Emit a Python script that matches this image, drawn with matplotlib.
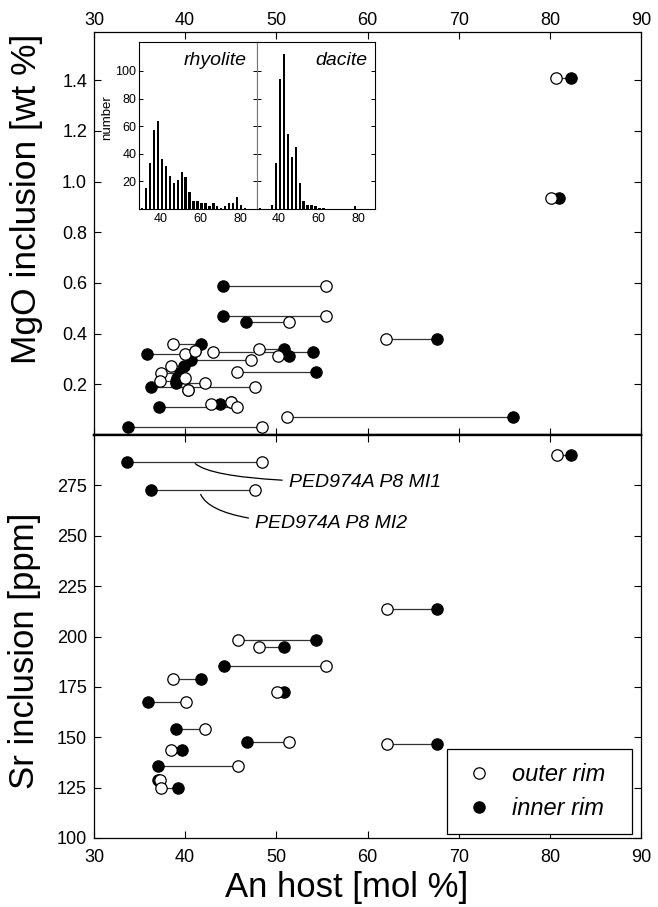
import matplotlib
matplotlib.use("Agg")
import matplotlib.pyplot as plt
import numpy as np

plt.rcParams['font.family'] = ['Liberation Sans', 'DejaVu Sans']

# --- MgO panel: An of outer rim, An of inner rim, MgO in the inclusion (wt %)
mgo_outer = [80.7, 80.1, 62.0, 55.4, 55.4, 51.4, 38.7, 40.0, 43.1, 48.1,
             50.2, 41.1, 47.2, 38.5, 37.4, 40.0, 37.2, 42.2, 47.7, 40.35,
             45.7, 42.8, 45.0, 45.7, 51.2, 48.4]
mgo_inner = [82.3, 81.0, 67.6, 44.2, 44.2, 46.7, 41.7, 35.8, 54.0, 50.8,
             51.4, 41.1, 40.6, 39.9, 39.4, 39.1, 39.0, 39.0, 36.3, 40.35,
             54.35, 43.8, 45.0, 37.1, 76.0, 33.7]
mgo_val = [1.41, 0.935, 0.377, 0.588, 0.471, 0.447, 0.36, 0.32, 0.328, 0.339,
           0.313, 0.33, 0.295, 0.272, 0.245, 0.225, 0.212, 0.205, 0.19, 0.178,
           0.25, 0.123, 0.132, 0.112, 0.07, 0.032]

# --- Sr panel: An of outer rim, An of inner rim, Sr in the inclusion (ppm)
sr_outer = [80.75, 48.4, 47.7, 62.1, 45.8, 48.1, 55.5, 38.7, 50.1, 40.05,
            42.2, 51.4, 62.1, 38.45, 45.8, 37.25, 37.35]
sr_inner = [82.3, 33.65, 36.25, 67.65, 54.3, 50.8, 44.3, 41.7, 50.8, 35.9,
            39.0, 46.75, 67.65, 39.7, 37.05, 37.0, 39.2]
sr_val = [290.0, 286.7, 272.6, 213.8, 198.4, 194.6, 185.6, 178.9, 172.7, 167.7,
          154.0, 147.6, 146.7, 143.7, 135.8, 128.8, 124.7]

# --- inset histograms of An in plagioclase
hist_an = [30.4, 32.4, 34.4, 36.4, 38.4, 40.4, 42.4, 44.4, 46.4, 48.4,
           50.4, 52.4, 54.4, 56.4, 58.4, 60.4, 62.4, 64.4, 66.4, 68.4,
           70.4, 72.4, 74.4, 76.4, 78.4, 80.4, 82.4]
rhyolite_counts = [1, 15, 33, 57, 64, 36, 31, 24, 19, 21, 27, 23, 12, 6, 6, 4,
                   4, 2, 4, 2, 1, 2, 4, 4, 9, 3, 1]
dacite_counts = [1, 0, 0, 3, 33, 94, 112, 54, 38, 45, 19, 6, 3, 3, 2, 1,
                 1, 0, 0, 0, 0, 0, 0, 0, 2, 0, 0]

x_ticks = [30, 40, 50, 60, 70, 80, 90]
mgo_ticks = [0.2, 0.4, 0.6, 0.8, 1.0, 1.2, 1.4]
sr_ticks = [100, 125, 150, 175, 200, 225, 250, 275]

W, H = 658, 907
fig = plt.figure(figsize=(W / 100, H / 100), dpi=100)


def px_rect(x0, y0, x1, y1):
    # pixel box (top-left origin) -> figure fraction rect
    return [x0 / W, 1 - y1 / H, (x1 - x0) / W, (y1 - y0) / H]


ax_top = fig.add_axes(px_rect(94, 32, 641, 435))
ax_bot = fig.add_axes(px_rect(94, 435, 641, 838))


def draw_pairs(ax, outer, inner, vals):
    outer = np.array(outer)
    inner = np.array(inner)
    ax.hlines(vals, np.minimum(outer, inner), np.maximum(outer, inner),
              color='#333333', lw=0.9, zorder=1)
    h_in, = ax.plot(inner, vals, 'o', mfc='black', mec='black', ms=8.2,
                    mew=0.8, zorder=2, label='inner rim')
    h_out, = ax.plot(outer, vals, 'o', mfc='white', mec='black', ms=8.2,
                     mew=0.9, zorder=3, label='outer rim')
    return h_out, h_in


draw_pairs(ax_top, mgo_outer, mgo_inner, mgo_val)
h_out, h_in = draw_pairs(ax_bot, sr_outer, sr_inner, sr_val)

for ax in (ax_top, ax_bot):
    ax.set_xlim(30, 90)
    ax.set_xticks(x_ticks)
    ax.tick_params(direction='in', length=5, width=0.8, labelsize=13,
                   top=True, right=True, pad=5)
    for s in ax.spines.values():
        s.set_linewidth(0.9)

ax_top.set_ylim(0, 1.59)
ax_top.set_yticks(mgo_ticks)
ax_top.set_yticklabels(['%.1f' % t for t in mgo_ticks])
ax_top.tick_params(axis='x', labeltop=True, labelbottom=False, pad=2)
ax_top.spines['bottom'].set_linewidth(1.7)

ax_bot.set_ylim(100, 300)
ax_bot.set_yticks(sr_ticks)
ax_bot.tick_params(axis='x', pad=8)
ax_bot.spines['top'].set_linewidth(1.7)

# labels
fig.text(27 / W, 1 - 199 / H, 'MgO inclusion [wt %]', rotation=90,
         ha='center', va='center', fontsize=25.5)
fig.text(25 / W, 1 - 651 / H, 'Sr inclusion [ppm]', rotation=90,
         ha='center', va='center', fontsize=25)
fig.text(347 / W, 1 - 888 / H, 'An host [mol %]', ha='center', va='center',
         fontsize=25)

# sample annotations
ax_bot.annotate('PED974A P8 MI1', xy=(41.1, 285.8), xytext=(51.4, 276.6),
                fontsize=14, style='italic', ha='left', va='center',
                arrowprops=dict(arrowstyle='-', color='black', lw=0.9,
                                connectionstyle='angle3,angleA=0,angleB=-40',
                                shrinkA=3, shrinkB=0))
ax_bot.annotate('PED974A P8 MI2', xy=(41.7, 270.5), xytext=(47.7, 256.0),
                fontsize=14, style='italic', ha='left', va='center',
                arrowprops=dict(arrowstyle='-', color='black', lw=0.9,
                                connectionstyle='angle3,angleA=0,angleB=-65',
                                shrinkA=3, shrinkB=0))

leg = ax_bot.legend([h_out, h_in], ['outer rim  ', 'inner rim  '],
                    loc='lower right', bbox_to_anchor=(0.984, 0.01),
                    borderaxespad=0, frameon=True, fancybox=False,
                    edgecolor='black', framealpha=1, handlelength=1.5,
                    handletextpad=0.65, borderpad=0.6, labelspacing=0.45,
                    prop={'style': 'italic', 'size': 17})
leg.get_frame().set_linewidth(0.9)

# inset histograms
ax_rh = fig.add_axes(px_rect(139, 42, 257, 209))
ax_da = fig.add_axes(px_rect(257, 42, 375, 209))
for ax, counts, name, tx in ((ax_rh, rhyolite_counts, 'rhyolite', 0.915),
                             (ax_da, dacite_counts, 'dacite', 0.94)):
    ax.bar(hist_an, counts, width=1.2, color='black')
    ax.set_xlim(28.8, 88.5)
    ax.set_ylim(0, 121)
    ax.set_xticks([40, 60, 80])
    ax.set_yticks([20, 40, 60, 80, 100])
    ax.tick_params(direction='in', length=3, width=0.7, labelsize=9,
                   right=True, pad=2)
    ax.tick_params(axis='x', length=0, pad=3)
    for s in ax.spines.values():
        s.set_linewidth(0.8)
    ax.text(tx, 0.89, name, transform=ax.transAxes, ha='right', va='center',
            fontsize=14, style='italic')
ax_rh.spines['right'].set_color('#777777')
ax_da.spines['left'].set_color('#777777')
ax_da.tick_params(axis='y', labelleft=False)
fig.text(107 / W, 1 - 118 / H, 'number', rotation=90, ha='center',
         va='center', fontsize=9.5)

fig.savefig('out.png', dpi=100)
